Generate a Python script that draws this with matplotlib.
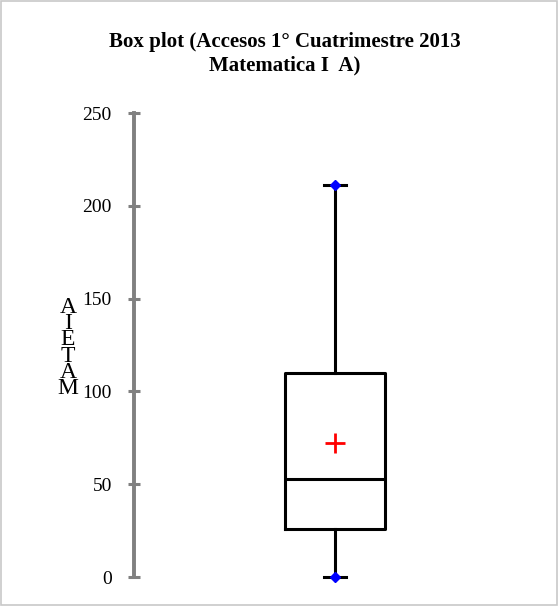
import matplotlib
matplotlib.use("Agg")
import matplotlib.pyplot as plt
from matplotlib.patches import Rectangle

# Data
minimum = 0
q1 = 26
median = 53
q3 = 110
maximum = 211
mean = 72
yticks = [0, 50, 100, 150, 200, 250]
title = "Box plot (Accesos 1° Cuatrimestre 2013\nMatematica I  A)"
ylabel_letters = ["A", "I", "E", "T", "A", "M"]

plt.rcParams['font.family'] = ['Liberation Serif', 'DejaVu Serif']

fig = plt.figure(figsize=(5.58, 6.06), dpi=100)
fig.patches.append(Rectangle((0.002, 0.002), 0.996, 0.996, transform=fig.transFigure,
                             fill=False, edgecolor='#c8c8c8', linewidth=1.2))

ax = fig.add_axes([134/558, (606-577)/606, (536-134)/558, (577-113)/606])
ax.set_xlim(0, 2)
ax.set_ylim(0, 250)

stats = [dict(med=median, q1=q1, q3=q3, whislo=minimum, whishi=maximum, mean=mean, fliers=[])]
res = ax.bxp(stats, positions=[1], widths=[0.5], showmeans=False, showfliers=False,
             boxprops=dict(color='black', linewidth=2.2),
             medianprops=dict(color='black', linewidth=2.2),
             whiskerprops=dict(color='black', linewidth=2.2),
             capprops=dict(color='black', linewidth=2.2),
             capwidths=[0.11])
for key in ('caps', 'whiskers'):
    for ln in res[key]:
        ln.set_clip_on(False)
ax.plot([1], [mean], marker='+', color='red', markersize=15, markeredgewidth=2, linestyle='none')
ax.plot([1, 1], [minimum, maximum], marker='D', color='blue', markersize=5, linestyle='none',
        clip_on=False, zorder=5)

for s in ['top', 'right', 'bottom']:
    ax.spines[s].set_visible(False)
ax.spines['left'].set_color('#808080')
ax.spines['left'].set_linewidth(2.8)
ax.set_xticks([])
ax.set_yticks(yticks)
ax.tick_params(axis='y', direction='inout', length=8, width=2.2, color='#808080',
               labelsize=14, pad=12)

fig.text(285/558, 1 - 54/606, title, ha='center', va='center', fontsize=15,
         fontweight='bold', linespacing=1.2)

fig.text(68/558, 1 - 348/606, "\n".join(ylabel_letters), ha='center', va='center',
         fontsize=17, linespacing=0.7)

fig.savefig("out.png", dpi=100)
